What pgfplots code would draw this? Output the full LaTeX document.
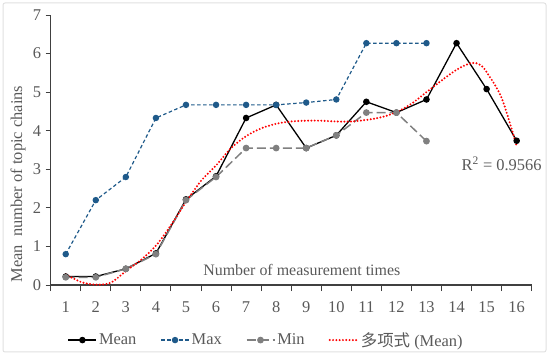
\documentclass[border=0pt]{standalone}
\usepackage{pgfplots}
\pgfplotsset{compat=1.18}
\usepackage{fontspec}
\setmainfont{Liberation Serif}
\newfontfamily\cjk{Noto Sans CJK SC}
\definecolor{txt}{HTML}{595959}
\definecolor{maxc}{HTML}{1F5A8A}
\definecolor{minc}{HTML}{808080}
\definecolor{axc}{HTML}{404040}
\begin{document}
\begin{tikzpicture}
\useasboundingbox (0,0) rectangle (550bp,357bp);
\draw[black!12, line width=1bp, rounded corners=2bp] (3bp,5bp) rectangle (546bp,354bp);
\begin{axis}[
  at={(50.7bp,72bp)}, anchor=south west,
  scale only axis, width=481bp, height=270bp,
  xmin=0.5, xmax=16.5, ymin=0, ymax=7,
  axis x line=bottom, axis y line=left,
  axis line style={-, axc, line width=1.2bp},
  xtick={1,...,16}, major x tick style={draw=none},
  minor xtick={0.5,1.5,...,16.5},
  minor x tick style={axc, line width=1bp},
  minor tick length=6bp,
  ytick={0,...,7}, major y tick style={axc, line width=1bp},
  major tick length=5bp,
  tick align=outside,
  /pgf/number format/assume math mode=true,
  tick label style={font=\fontsize{16.5}{19}\selectfont, text=txt},
  xticklabel style={yshift=-8.5bp},
  yticklabel style={xshift=-1bp},
  xlabel={Number of measurement times},
  xlabel style={at={(rel axis cs:0.522,0.0556)}, anchor=center, font=\fontsize{16}{19}\selectfont, text=txt},
  ylabel={Mean\ \ number of topic chains},
  ylabel style={at={(axis description cs:-0.068,0.374)}, anchor=center, font=\fontsize{16.5}{19}\selectfont, text=txt},
  clip=false,
  legend columns=4,
  legend style={draw=none, fill=none, at={(axis description cs:0.448,-0.204)}, anchor=center,
    font=\fontsize{16.5}{19}\selectfont, text=txt,
    /tikz/every even column/.append style={column sep=22bp}},
  legend image code/.code={\draw[mark repeat=2,mark phase=2,#1] plot coordinates {(0bp,0bp)(14bp,0bp)(28bp,0bp)};},
]
\addplot[black, line width=1.3bp, mark=*, mark size=2.6bp, mark options={solid}] coordinates {
(1,0.22)(2,0.22)(3,0.42)(4,0.82)(5,2.22)(6,2.82)(7,4.33)(8,4.67)(9,3.55)(10,3.88)(11,4.75)(12,4.47)(13,4.81)(14,6.27)(15,5.08)(16,3.74)};
\addlegendentry{Mean}
\addplot[maxc, line width=1.2bp, dash pattern=on 3.5bp off 2.5bp, mark=*, mark size=2.6bp, mark options={solid}] coordinates {
(1,0.8)(2,2.2)(3,2.8)(4,4.33)(5,4.67)(6,4.67)(7,4.67)(8,4.67)(9,4.73)(10,4.81)(11,6.27)(12,6.27)(13,6.27)};
\addlegendentry{Max}
\addplot[minc, line width=1.5bp, dash pattern=on 9bp off 4bp, mark=*, mark size=2.6bp, mark options={solid}] coordinates {
(1,0.2)(2,0.2)(3,0.42)(4,0.8)(5,2.2)(6,2.8)(7,3.55)(8,3.55)(9,3.55)(10,3.88)(11,4.47)(12,4.47)(13,3.73)};
\addlegendentry{Min}
\addplot[red, line width=2.2bp, line cap=round, dash pattern=on 0bp off 3.3bp, smooth, tension=0.5] coordinates {
(1,0.28)(1.5,0.08)(2,0.01)(2.5,0.06)(3,0.36)(3.5,0.65)(4,1.02)(4.5,1.55)(5,2.15)(5.5,2.7)(6,3.1)(6.5,3.55)(7,3.86)(7.5,4.06)(8,4.18)(8.5,4.24)(9,4.26)(9.5,4.26)(10,4.24)(10.5,4.24)(11,4.28)(11.5,4.35)(12,4.48)(12.5,4.7)(13,5.0)(13.5,5.3)(14,5.58)(14.5,5.76)(14.8,5.7)(15,5.52)(15.5,4.85)(16,3.6)};
\addlegendentry{{\cjk 多项式} (Mean)}
\node[text=txt, font=\fontsize{16.5}{19}\selectfont] at (axis cs:15.5,3.15) {R\textsuperscript{2} = 0.9566};
\end{axis}
\end{tikzpicture}
\end{document}
